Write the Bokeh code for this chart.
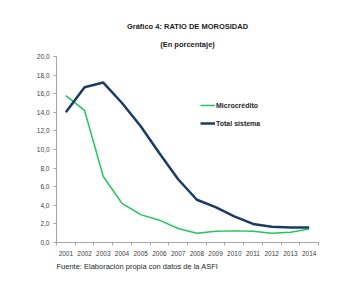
from bokeh.plotting import figure
from bokeh.models import Range1d, Legend, LegendItem, FixedTicker, ColumnDataSource, Title
from bokeh.embed import file_html
from bokeh.resources import INLINE

years = [2001, 2002, 2003, 2004, 2005, 2006, 2007, 2008, 2009, 2010, 2011, 2012, 2013, 2014]
total_sistema = [14.0, 16.7, 17.2, 15.0, 12.5, 9.6, 6.8, 4.6, 3.8, 2.8, 2.0, 1.7, 1.6, 1.6]
microcredito = [15.8, 14.2, 7.1, 4.2, 3.0, 2.4, 1.5, 1.0, 1.2, 1.25, 1.2, 1.0, 1.1, 1.45]
y_ticks = [0, 2, 4, 6, 8, 10, 12, 14, 16, 18, 20]
y_labels = ["0,0", "2,0", "4,0", "6,0", "8,0", "10,0", "12,0", "14,0", "16,0", "18,0", "20,0"]

title_text = "Gráfico 4: RATIO DE MOROSIDAD"
subtitle_text = "(En porcentaje)"
source_text = "Fuente: Elaboración propia con datos de la ASFI"

src = ColumnDataSource(dict(year=years, total=total_sistema, micro=microcredito))

p = figure(width=357, height=290, x_range=Range1d(years[0] - 0.5, years[-1] + 0.5),
           y_range=Range1d(0, 20), output_backend="svg", toolbar_location=None, title=None,
           min_border_left=56, min_border_right=39, min_border_top=56, min_border_bottom=48)
p.outline_line_color = None
p.grid.grid_line_color = None
p.background_fill_color = "white"
p.border_fill_color = "white"

axis_color = "#a9a3ad"
font = "Liberation Sans"
label_color = "#404040"

p.yaxis.ticker = FixedTicker(ticks=y_ticks)
p.yaxis.major_label_overrides = {t: l for t, l in zip(y_ticks, y_labels)}
p.yaxis.axis_line_color = axis_color
p.yaxis.major_tick_line_color = axis_color
p.yaxis.major_tick_out = 3
p.yaxis.major_tick_in = 0
p.yaxis.minor_tick_line_color = None
p.yaxis.major_label_standoff = 4
p.yaxis.major_label_text_font = font
p.yaxis.major_label_text_font_size = "6.5px"
p.yaxis.major_label_text_color = label_color

p.xaxis.ticker = FixedTicker(ticks=years, minor_ticks=[y - 0.5 for y in years] + [years[-1] + 0.5])
p.xaxis.major_label_overrides = {y: str(y) for y in years}
p.xaxis.axis_line_color = axis_color
p.xaxis.major_tick_line_color = None
p.xaxis.minor_tick_line_color = axis_color
p.xaxis.minor_tick_out = 3
p.xaxis.minor_tick_in = 0
p.xaxis.major_label_standoff = 2
p.xaxis.major_label_text_font = font
p.xaxis.major_label_text_font_size = "6.5px"
p.xaxis.major_label_text_color = label_color

r_micro = p.line("year", "micro", source=src, line_color="#22c660", line_width=1.5)
r_total = p.line("year", "total", source=src, line_color="#1d3a64", line_width=2.5)

legend = Legend(items=[LegendItem(label="Microcrédito", renderers=[r_micro]),
                       LegendItem(label="Total sistema", renderers=[r_total])],
                location=(144, 110), orientation="vertical")
legend.background_fill_alpha = 0
legend.border_line_color = None
legend.padding = 0
legend.margin = 0
legend.spacing = 0
legend.glyph_width = 15
legend.glyph_height = 18
legend.label_standoff = 1
legend.label_text_font = font
legend.label_text_font_style = "bold"
legend.label_text_font_size = "7px"
legend.label_text_color = "#262626"
legend.label_height = 18
p.add_layout(legend)

# subtitle first (closest to the frame), then the main title above it
p.add_layout(Title(text=subtitle_text, align="center", text_font=font, text_font_style="bold",
                   text_font_size="7.5px", text_color="#1a1a1a", text_line_height=1.0,
                   standoff=15, offset=-4), "above")
p.add_layout(Title(text=title_text, align="center", text_font=font, text_font_style="bold",
                   text_font_size="7.5px", text_color="#1a1a1a", text_line_height=1.0,
                   standoff=0, offset=-4), "above")
p.add_layout(Title(text=source_text, align="left", text_font=font, text_font_style="normal",
                   text_font_size="7.5px", text_color="#262626", standoff=2), "below")

open("out.html", "w").write(file_html(p, INLINE))
